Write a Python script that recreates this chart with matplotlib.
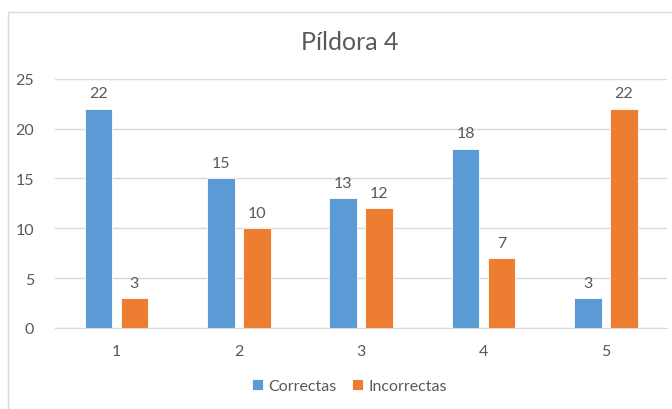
import numpy as np
import matplotlib.pyplot as plt
from matplotlib.patches import Rectangle

categorias = ['1', '2', '3', '4', '5']
correctas = [22, 15, 13, 18, 3]
incorrectas = [3, 10, 12, 7, 22]

plt.rcParams['font.family'] = ['Lato', 'DejaVu Sans']
gris = '#595959'

fig = plt.figure(figsize=(6.72, 4.10), dpi=100)
ax = fig.add_axes([0.082, 0.198, 0.911, 0.607])

# borde del grafico
fig.patches.append(Rectangle((8/672, -0.01), 1.0, 1 - 13/410 + 0.01, transform=fig.transFigure,
                             fill=False, edgecolor='#d9d9d9', linewidth=1))

x = np.arange(len(categorias))
w = 0.225
b1 = ax.bar(x - 0.147, correctas, w, color='#5B9BD5', edgecolor='white', linewidth=0.6, label='Correctas')
b2 = ax.bar(x + 0.147, incorrectas, w, color='#ED7D31', edgecolor='white', linewidth=0.6, label='Incorrectas')

for barras in (b1, b2):
    for r in barras:
        h = r.get_height()
        ax.annotate(str(int(h)), (r.get_x() + r.get_width()/2, h), xytext=(0, 6),
                    textcoords='offset points', ha='center', va='bottom', fontsize=11.5, color=gris)

ax.set_xlim(-0.5, 4.5)
ax.set_ylim(0, 25)
ax.set_yticks(range(0, 26, 5))
ax.set_xticks(x)
ax.set_xticklabels(categorias)
ax.yaxis.grid(True, color='#d9d9d9', linewidth=1)
ax.set_axisbelow(True)
for s in ['top', 'right', 'left']:
    ax.spines[s].set_visible(False)
ax.spines['bottom'].set_color('#d9d9d9')
ax.tick_params(length=0, labelsize=11.5, labelcolor=gris)
ax.tick_params(axis='x', pad=12)
ax.tick_params(axis='y', pad=15)

fig.text(0.52, 0.897, 'Píldora 4', ha='center', va='center', fontsize=18, color=gris)
fig.legend(loc='center', bbox_to_anchor=(0.52, 0.057), ncol=2, frameon=False, fontsize=11.5,
           handlelength=0.7, handleheight=0.7, handletextpad=0.3, columnspacing=1.0, labelcolor=gris)

plt.savefig('out.png')
